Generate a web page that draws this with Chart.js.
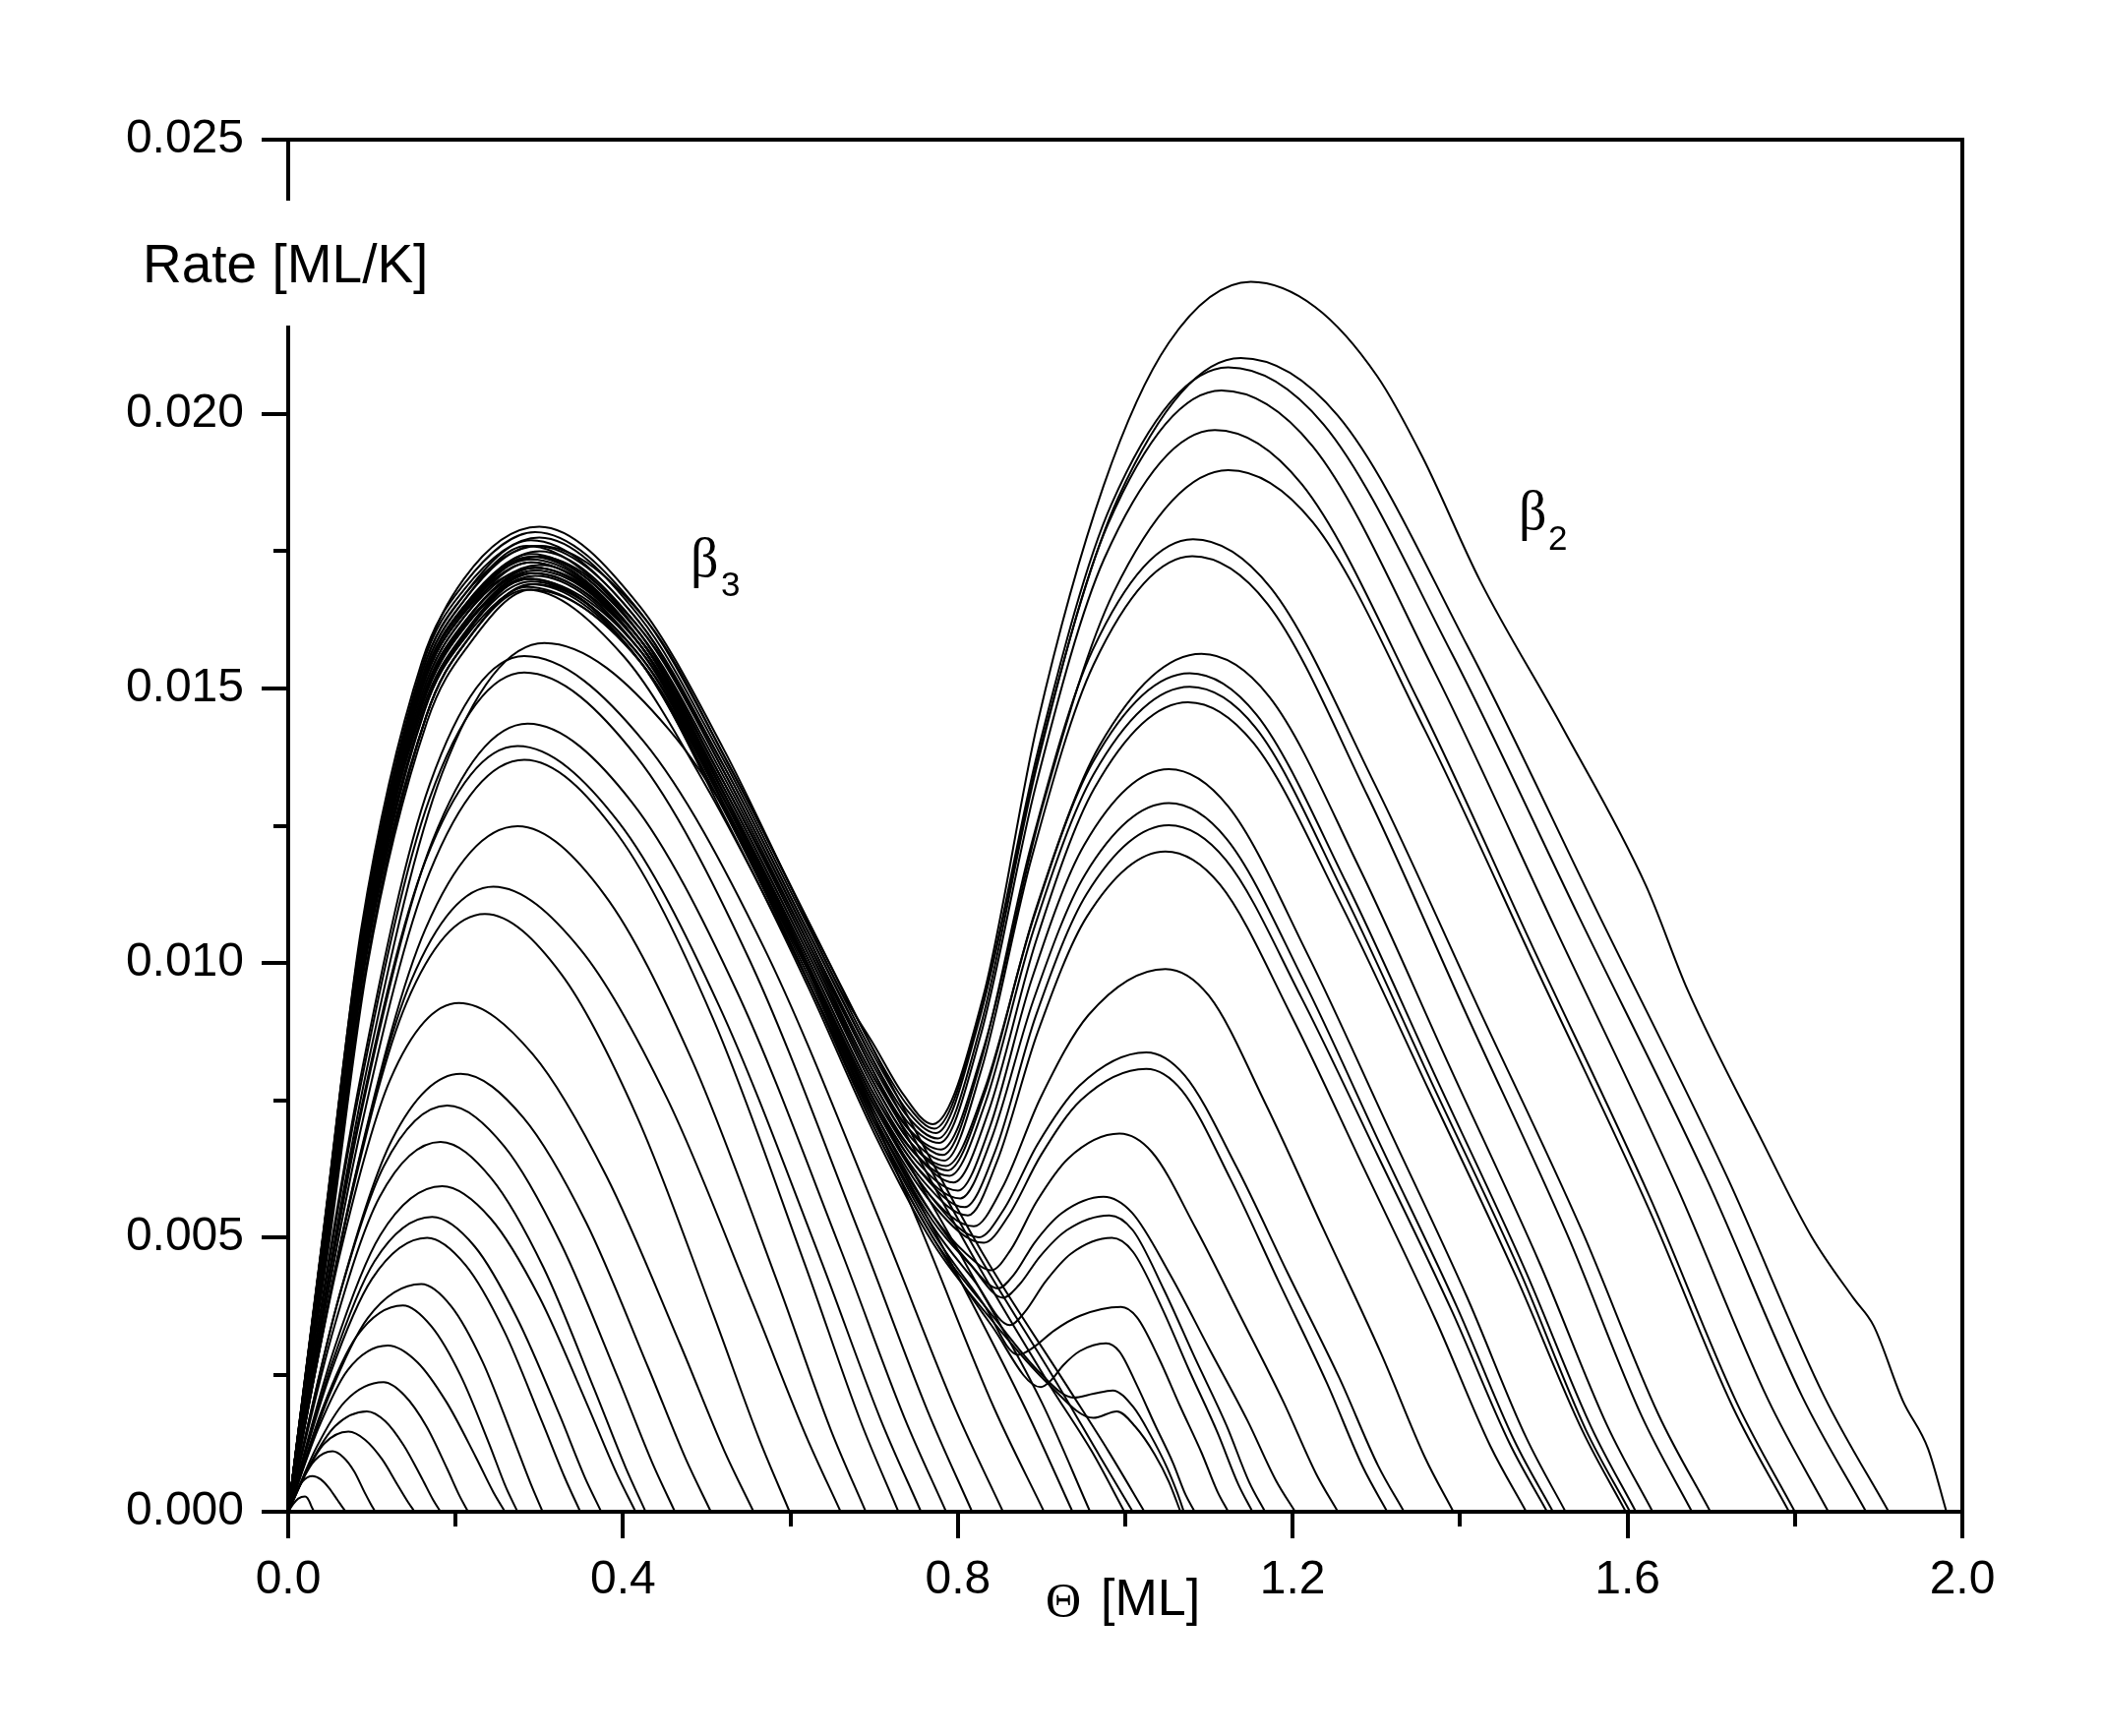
<!DOCTYPE html>
<html>
<head>
<meta charset="utf-8">
<script src="https://cdn.jsdelivr.net/npm/chart.js@4.4.1/dist/chart.umd.min.js"></script>
<style>
html,body{margin:0;padding:0;background:#fff;}
#wrap{width:2138px;height:1765px;}
canvas{display:block;}
</style>
</head>
<body>
<div id="wrap"><canvas id="c" width="2138" height="1765"></canvas></div>
<script>
// ---------- axis ticks ----------
const xMajorTicks = [0, 0.4, 0.8, 1.2, 1.6, 2.0];
const xMinorTicks = [0.2, 0.6, 1.0, 1.4, 1.8];
const yMajorTicks = [0, 0.005, 0.010, 0.015, 0.020, 0.025];
const yMinorTicks = [0.0025, 0.0075, 0.0125, 0.0175, 0.0225];

// ---------- single-peak (beta3 only) curves: [theta, rate] ----------
const singlePeakCurves = [
 [[0,0],[0.006,0.00014],[0.012,0.00024],[0.020,0.00028],[0.023,0.00025],[0.0255,0.00018],[0.028,0.00009],[0.030,0.00003],[0.031,0]],
 [[0,0],[0.009,0.00033],[0.017,0.00055],[0.029,0.00065],[0.039,0.00059],[0.049,0.00043],[0.059,0.00021],[0.065,0.00008],[0.069,0]],
 [[0,0],[0.016,0.00055],[0.032,0.00094],[0.053,0.00110],[0.066,0.00099],[0.079,0.00073],[0.091,0.00036],[0.099,0.00013],[0.104,0]],
 [[0,0],[0.022,0.00073],[0.043,0.00124],[0.072,0.00146],[0.092,0.00131],[0.112,0.00096],[0.131,0.00048],[0.143,0.00018],[0.151,0]],
 [[0,0],[0.028,0.00092],[0.056,0.00156],[0.094,0.00183],[0.116,0.00165],[0.138,0.00121],[0.160,0.00060],[0.173,0.00022],[0.182,0]],
 [[0,0],[0.034,0.00118],[0.068,0.00201],[0.114,0.00236],[0.139,0.00212],[0.165,0.00156],[0.190,0.00078],[0.205,0.00028],[0.215,0]],
 [[0,0],[0.036,0.00152],[0.071,0.00258],[0.119,0.00303],[0.154,0.00273],[0.189,0.00200],[0.224,0.00100],[0.245,0.00036],[0.259,0]],
 [[0,0],[0.041,0.00188],[0.082,0.00320],[0.137,0.00376],[0.171,0.00338],[0.206,0.00248],[0.240,0.00124],[0.260,0.00045],[0.274,0]],
 [[0,0],[0.048,0.00208],[0.095,0.00353],[0.159,0.00415],[0.195,0.00374],[0.232,0.00274],[0.268,0.00137],[0.290,0.00050],[0.304,0]],
 [[0,0],[0.050,0.00250],[0.100,0.00424],[0.166,0.00499],[0.212,0.00449],[0.258,0.00329],[0.303,0.00165],[0.331,0.00060],[0.349,0]],
 [[0,0],[0.052,0.00269],[0.103,0.00456],[0.172,0.00537],[0.223,0.00483],[0.273,0.00354],[0.324,0.00177],[0.354,0.00064],[0.374,0]],
 [[0,0],[0.055,0.00297],[0.110,0.00504],[0.184,0.00593],[0.242,0.00534],[0.300,0.00391],[0.357,0.00196],[0.392,0.00071],[0.415,0]],
 [[0,0],[0.055,0.00337],[0.109,0.00573],[0.182,0.00674],[0.243,0.00607],[0.305,0.00445],[0.366,0.00222],[0.403,0.00081],[0.427,0]],
 [[0,0],[0.057,0.00370],[0.114,0.00629],[0.190,0.00740],[0.258,0.00666],[0.326,0.00488],[0.394,0.00244],[0.435,0.00089],[0.462,0]],
 [[0,0],[0.062,0.00399],[0.124,0.00678],[0.206,0.00798],[0.281,0.00718],[0.356,0.00527],[0.430,0.00263],[0.475,0.00096],[0.505,0]],
 [[0,0],[0.061,0.00464],[0.122,0.00788],[0.204,0.00927],[0.292,0.00834],[0.380,0.00612],[0.468,0.00306],[0.521,0.00111],[0.556,0]],
 [[0,0],[0.071,0.00545],[0.141,0.00926],[0.235,0.01089],[0.326,0.00980],[0.417,0.00719],[0.508,0.00359],[0.563,0.00131],[0.599,0]],
 [[0,0],[0.074,0.00570],[0.147,0.00968],[0.245,0.01139],[0.349,0.01025],[0.453,0.00752],[0.556,0.00376],[0.619,0.00137],[0.660,0]],
 [[0,0],[0.082,0.00625],[0.164,0.01062],[0.274,0.01249],[0.378,0.01124],[0.482,0.00824],[0.586,0.00412],[0.648,0.00150],[0.690,0]],
 [[0,0],[0.085,0.00685],[0.169,0.01165],[0.282,0.01370],[0.394,0.01233],[0.506,0.00904],[0.617,0.00452],[0.684,0.00164],[0.729,0]],
 [[0,0],[0.082,0.00698],[0.164,0.01186],[0.274,0.01395],[0.395,0.01256],[0.515,0.00921],[0.636,0.00460],[0.708,0.00167],[0.756,0]],
 [[0,0],[0.086,0.00718],[0.172,0.01221],[0.286,0.01436],[0.411,0.01292],[0.536,0.00948],[0.661,0.00474],[0.736,0.00172],[0.786,0]],
 [[0,0],[0.085,0.00765],[0.169,0.01300],[0.282,0.01529],[0.416,0.01376],[0.550,0.01009],[0.683,0.00505],[0.764,0.00183],[0.817,0]],
 [[0,0],[0.085,0.00780],[0.169,0.01325],[0.282,0.01559],[0.425,0.01403],[0.568,0.01029],[0.711,0.00514],[0.797,0.00187],[0.854,0]],
 [[0,0],[0.092,0.00792],[0.184,0.01346],[0.306,0.01583],[0.455,0.01425],[0.605,0.01045],[0.754,0.00522],[0.843,0.00190],[0.903,0]]
];

// ---------- saturated beta3 curves without beta2 ----------
const bundleCurves = [
 [[0,0],[0.048,0.00500],[0.092,0.01000],[0.165,0.01450],[0.215,0.01590],[0.285,0.01680],[0.400,0.01560],[0.500,0.01320],[0.600,0.01030],[0.700,0.00720],[0.800,0.00430],[0.880,0.00190],[0.937,0]],
 [[0,0],[0.045,0.00500],[0.088,0.01000],[0.160,0.01470],[0.210,0.01610],[0.290,0.01700],[0.410,0.01570],[0.510,0.01310],[0.610,0.01020],[0.710,0.00720],[0.810,0.00450],[0.900,0.00200],[0.958,0]],
 [[0,0],[0.042,0.00510],[0.084,0.01010],[0.156,0.01490],[0.206,0.01630],[0.295,0.01720],[0.420,0.01590],[0.520,0.01330],[0.620,0.01040],[0.720,0.00740],[0.820,0.00460],[0.910,0.00230],[0.960,0.00110],[0.999,0]],
 [[0,0],[0.045,0.00520],[0.088,0.01020],[0.160,0.01510],[0.210,0.01650],[0.300,0.01740],[0.420,0.01610],[0.520,0.01360],[0.620,0.01060],[0.720,0.00760],[0.820,0.00480],[0.920,0.00230],[0.970,0.00100],[1.009,0]],
 [[0,0],[0.044,0.00520],[0.087,0.01030],[0.160,0.01530],[0.210,0.01670],[0.300,0.01760],[0.430,0.01620],[0.530,0.01350],[0.630,0.01050],[0.730,0.00750],[0.830,0.00470],[0.930,0.00230],[0.980,0.00110],[1.023,0]]
];

// ---------- two-peak (beta3 + beta2) curves ----------
const doublePeakCurves = [
 [[0,0],[0.048,0.00490],[0.093,0.00990],[0.165,0.01450],[0.215,0.01590],[0.290,0.01690],[0.420,0.01550],[0.520,0.01270],[0.620,0.00960],[0.700,0.00690],[0.770,0.00490],[0.840,0.00350],[0.910,0.00230],[0.962,0.00171],[0.990,0.00183],[1.012,0.00155],[1.035,0.00105],[1.052,0.00055],[1.066,0]],
 [[0,0],[0.045,0.00500],[0.089,0.01000],[0.160,0.01470],[0.210,0.01610],[0.295,0.01710],[0.420,0.01570],[0.520,0.01290],[0.620,0.00970],[0.700,0.00700],[0.770,0.00500],[0.840,0.00360],[0.900,0.00250],[0.938,0.00208],[0.962,0.00215],[0.985,0.00221],[1.010,0.00190],[1.030,0.00140],[1.050,0.00080],[1.062,0.00035],[1.070,0]],
 [[0,0],[0.042,0.00510],[0.084,0.01020],[0.156,0.01490],[0.206,0.01630],[0.290,0.01730],[0.420,0.01580],[0.520,0.01290],[0.620,0.00970],[0.700,0.00700],[0.770,0.00500],[0.840,0.00340],[0.899,0.00227],[0.911,0.00239],[0.926,0.00267],[0.946,0.00293],[0.977,0.00307],[0.993,0.00292],[1.014,0.00230],[1.035,0.00160],[1.057,0.00089],[1.072,0.00031],[1.083,0]],
 [[0,0],[0.045,0.00520],[0.087,0.01040],[0.160,0.01520],[0.210,0.01660],[0.285,0.01760],[0.420,0.01600],[0.520,0.01310],[0.620,0.00990],[0.700,0.00710],[0.770,0.00510],[0.830,0.00380],[0.872,0.00286],[0.890,0.00299],[0.915,0.00330],[0.946,0.00357],[0.995,0.00373],[1.014,0.00354],[1.040,0.00280],[1.065,0.00194],[1.091,0.00108],[1.110,0.00037],[1.123,0]],
 [[0,0],[0.049,0.00490],[0.094,0.00990],[0.166,0.01440],[0.216,0.01580],[0.290,0.01680],[0.420,0.01550],[0.520,0.01280],[0.620,0.00970],[0.700,0.00710],[0.770,0.00520],[0.820,0.00420],[0.862,0.00340],[0.880,0.00364],[0.905,0.00420],[0.935,0.00470],[0.984,0.00499],[1.009,0.00474],[1.043,0.00374],[1.076,0.00259],[1.110,0.00145],[1.135,0.00050],[1.152,0]],
 [[0,0],[0.045,0.00500],[0.088,0.01010],[0.160,0.01480],[0.210,0.01620],[0.295,0.01720],[0.420,0.01580],[0.520,0.01300],[0.620,0.00990],[0.700,0.00720],[0.770,0.00530],[0.815,0.00450],[0.854,0.00390],[0.873,0.00413],[0.898,0.00465],[0.930,0.00513],[0.981,0.00540],[1.009,0.00513],[1.046,0.00405],[1.083,0.00281],[1.121,0.00157],[1.148,0.00054],[1.167,0]],
 [[0,0],[0.043,0.00510],[0.085,0.01020],[0.157,0.01500],[0.207,0.01640],[0.290,0.01740],[0.420,0.01590],[0.520,0.01310],[0.620,0.01000],[0.700,0.00730],[0.770,0.00540],[0.810,0.00460],[0.848,0.00407],[0.867,0.00432],[0.892,0.00491],[0.924,0.00544],[0.974,0.00574],[1.008,0.00545],[1.054,0.00431],[1.100,0.00298],[1.146,0.00166],[1.180,0.00057],[1.203,0]],
 [[0,0],[0.047,0.00500],[0.091,0.01000],[0.163,0.01460],[0.213,0.01600],[0.285,0.01700],[0.420,0.01560],[0.520,0.01290],[0.620,0.00980],[0.700,0.00720],[0.770,0.00540],[0.810,0.00470],[0.840,0.00440],[0.863,0.00477],[0.894,0.00565],[0.932,0.00644],[0.993,0.00689],[1.032,0.00655],[1.084,0.00517],[1.137,0.00358],[1.189,0.00200],[1.228,0.00069],[1.254,0]],
 [[0,0],[0.045,0.00500],[0.088,0.01010],[0.160,0.01480],[0.210,0.01620],[0.295,0.01715],[0.420,0.01580],[0.520,0.01300],[0.620,0.00990],[0.700,0.00730],[0.770,0.00560],[0.831,0.00490],[0.860,0.00538],[0.899,0.00649],[0.947,0.00750],[1.025,0.00807],[1.068,0.00767],[1.126,0.00605],[1.183,0.00420],[1.241,0.00234],[1.284,0.00081],[1.313,0]],
 [[0,0],[0.043,0.00510],[0.085,0.01020],[0.157,0.01500],[0.207,0.01640],[0.290,0.01735],[0.420,0.01590],[0.520,0.01310],[0.620,0.01000],[0.700,0.00740],[0.770,0.00570],[0.825,0.00500],[0.855,0.00551],[0.895,0.00669],[0.945,0.00776],[1.025,0.00837],[1.071,0.00795],[1.133,0.00628],[1.194,0.00435],[1.256,0.00243],[1.302,0.00084],[1.333,0]],
 [[0,0],[0.048,0.00490],[0.093,0.00990],[0.165,0.01450],[0.215,0.01590],[0.285,0.01685],[0.420,0.01550],[0.520,0.01290],[0.620,0.00990],[0.700,0.00740],[0.765,0.00580],[0.819,0.00520],[0.853,0.00590],[0.899,0.00755],[0.956,0.00905],[1.048,0.00989],[1.100,0.00940],[1.168,0.00742],[1.237,0.00514],[1.306,0.00287],[1.358,0.00099],[1.392,0]],
 [[0,0],[0.045,0.00500],[0.089,0.01000],[0.160,0.01450],[0.210,0.01590],[0.295,0.01690],[0.420,0.01560],[0.520,0.01290],[0.620,0.00990],[0.700,0.00740],[0.760,0.00600],[0.812,0.00540],[0.847,0.00639],[0.895,0.00872],[0.954,0.01084],[1.048,0.01203],[1.113,0.01143],[1.199,0.00902],[1.285,0.00626],[1.371,0.00349],[1.436,0.00120],[1.479,0]],
 [[0,0],[0.047,0.00500],[0.090,0.01000],[0.162,0.01460],[0.212,0.01600],[0.290,0.01695],[0.420,0.01560],[0.520,0.01300],[0.620,0.01000],[0.700,0.00750],[0.755,0.00620],[0.808,0.00555],[0.845,0.00659],[0.893,0.00903],[0.954,0.01126],[1.052,0.01251],[1.120,0.01188],[1.210,0.00938],[1.301,0.00651],[1.391,0.00363],[1.459,0.00125],[1.504,0]],
 [[0,0],[0.045,0.00510],[0.088,0.01010],[0.160,0.01460],[0.210,0.01600],[0.285,0.01700],[0.420,0.01570],[0.520,0.01300],[0.620,0.01000],[0.700,0.00750],[0.750,0.00630],[0.803,0.00571],[0.840,0.00679],[0.890,0.00931],[0.952,0.01161],[1.052,0.01291],[1.121,0.01226],[1.213,0.00968],[1.304,0.00671],[1.396,0.00374],[1.465,0.00129],[1.511,0]],
 [[0,0],[0.043,0.00500],[0.086,0.01010],[0.158,0.01470],[0.208,0.01610],[0.295,0.01705],[0.420,0.01570],[0.520,0.01310],[0.620,0.01010],[0.700,0.00760],[0.750,0.00640],[0.800,0.00585],[0.838,0.00700],[0.888,0.00969],[0.951,0.01215],[1.052,0.01353],[1.123,0.01285],[1.218,0.01015],[1.313,0.00704],[1.408,0.00392],[1.479,0.00135],[1.526,0]],
 [[0,0],[0.044,0.00510],[0.087,0.01020],[0.160,0.01470],[0.210,0.01610],[0.290,0.01710],[0.420,0.01580],[0.520,0.01310],[0.620,0.01010],[0.700,0.00760],[0.750,0.00650],[0.795,0.00600],[0.837,0.00731],[0.893,0.01038],[0.963,0.01318],[1.075,0.01475],[1.153,0.01401],[1.258,0.01106],[1.363,0.00767],[1.467,0.00428],[1.546,0.00148],[1.598,0]],
 [[0,0],[0.046,0.00510],[0.089,0.01020],[0.161,0.01480],[0.211,0.01620],[0.295,0.01720],[0.420,0.01580],[0.520,0.01320],[0.620,0.01020],[0.700,0.00770],[0.745,0.00660],[0.790,0.00612],[0.833,0.00746],[0.890,0.01058],[0.962,0.01343],[1.077,0.01503],[1.156,0.01428],[1.261,0.01127],[1.366,0.00782],[1.472,0.00436],[1.550,0.00150],[1.603,0]],
 [[0,0],[0.044,0.00520],[0.087,0.01030],[0.160,0.01490],[0.210,0.01630],[0.300,0.01725],[0.420,0.01590],[0.520,0.01320],[0.620,0.01020],[0.700,0.00780],[0.745,0.00670],[0.788,0.00622],[0.831,0.00758],[0.889,0.01075],[0.961,0.01365],[1.077,0.01528],[1.157,0.01452],[1.264,0.01146],[1.370,0.00795],[1.477,0.00443],[1.557,0.00153],[1.610,0]],
 [[0,0],[0.045,0.00510],[0.088,0.01020],[0.160,0.01490],[0.210,0.01630],[0.290,0.01730],[0.420,0.01590],[0.520,0.01330],[0.620,0.01030],[0.700,0.00780],[0.745,0.00670],[0.786,0.00630],[0.832,0.00770],[0.893,0.01097],[0.969,0.01395],[1.091,0.01563],[1.172,0.01485],[1.280,0.01172],[1.387,0.00813],[1.495,0.00453],[1.576,0.00156],[1.630,0]],
 [[0,0],[0.044,0.00510],[0.087,0.01030],[0.160,0.01500],[0.210,0.01640],[0.295,0.01740],[0.420,0.01600],[0.520,0.01330],[0.620,0.01030],[0.700,0.00790],[0.745,0.00680],[0.784,0.00640],[0.828,0.00805],[0.888,0.01191],[0.962,0.01543],[1.080,0.01741],[1.170,0.01654],[1.289,0.01306],[1.408,0.00905],[1.528,0.00505],[1.617,0.00174],[1.677,0]],
 [[0,0],[0.045,0.00520],[0.088,0.01030],[0.160,0.01500],[0.210,0.01640],[0.290,0.01745],[0.420,0.01600],[0.520,0.01340],[0.620,0.01040],[0.700,0.00790],[0.745,0.00690],[0.782,0.00650],[0.827,0.00818],[0.887,0.01211],[0.961,0.01570],[1.081,0.01772],[1.174,0.01683],[1.297,0.01329],[1.421,0.00921],[1.545,0.00514],[1.637,0.00177],[1.699,0]],
 [[0,0],[0.044,0.00520],[0.087,0.01040],[0.160,0.01510],[0.210,0.01650],[0.300,0.01750],[0.420,0.01610],[0.520,0.01350],[0.620,0.01050],[0.700,0.00800],[0.740,0.00700],[0.780,0.00660],[0.831,0.00846],[0.900,0.01279],[0.986,0.01675],[1.123,0.01898],[1.224,0.01803],[1.358,0.01424],[1.492,0.00987],[1.626,0.00550],[1.726,0.00190],[1.793,0]],
 [[0,0],[0.045,0.00520],[0.087,0.01040],[0.160,0.01520],[0.210,0.01660],[0.295,0.01760],[0.420,0.01620],[0.520,0.01350],[0.620,0.01050],[0.700,0.00810],[0.740,0.00710],[0.778,0.00672],[0.827,0.00867],[0.893,0.01322],[0.975,0.01737],[1.107,0.01971],[1.211,0.01872],[1.350,0.01478],[1.488,0.01025],[1.627,0.00572],[1.731,0.00197],[1.800,0]],
 [[0,0],[0.044,0.00530],[0.087,0.01050],[0.160,0.01530],[0.210,0.01670],[0.290,0.01770],[0.420,0.01620],[0.520,0.01360],[0.620,0.01060],[0.700,0.00820],[0.740,0.00720],[0.776,0.00680],[0.827,0.00884],[0.895,0.01362],[0.979,0.01798],[1.115,0.02043],[1.224,0.01941],[1.369,0.01532],[1.514,0.01062],[1.659,0.00592],[1.768,0.00204],[1.840,0]],
 [[0,0],[0.045,0.00530],[0.088,0.01050],[0.160,0.01540],[0.210,0.01680],[0.300,0.01775],[0.420,0.01630],[0.520,0.01370],[0.620,0.01070],[0.700,0.00830],[0.740,0.00730],[0.774,0.00690],[0.826,0.00899],[0.896,0.01388],[0.983,0.01834],[1.123,0.02085],[1.237,0.01981],[1.390,0.01564],[1.542,0.01084],[1.695,0.00605],[1.809,0.00209],[1.885,0]],
 [[0,0],[0.044,0.00530],[0.087,0.01060],[0.160,0.01550],[0.210,0.01690],[0.295,0.01785],[0.420,0.01640],[0.520,0.01380],[0.620,0.01080],[0.700,0.00840],[0.740,0.00740],[0.772,0.00698],[0.827,0.00909],[0.900,0.01400],[0.992,0.01849],[1.138,0.02102],[1.254,0.01997],[1.409,0.01577],[1.564,0.01093],[1.719,0.00610],[1.835,0.00210],[1.912,0]],
 [[0,0],[0.045,0.00530],[0.088,0.01040],[0.160,0.01540],[0.210,0.01700],[0.300,0.01795],[0.420,0.01650],[0.520,0.01390],[0.600,0.01140],[0.660,0.00950],[0.700,0.00850],[0.735,0.00760],[0.770,0.00706],[0.831,0.00943],[0.895,0.01436],[0.974,0.01869],[1.052,0.02130],[1.150,0.02241],[1.227,0.02195],[1.301,0.02069],[1.355,0.01922],[1.424,0.01696],[1.523,0.01427],[1.622,0.01141],[1.672,0.00950],[1.761,0.00675],[1.820,0.00501],[1.870,0.00389],[1.894,0.00339],[1.929,0.00202],[1.959,0.00115],[1.981,0]]
];

// ---------- text ----------
const yAxisTitle = 'Rate [ML/K]';
const xAxisSymbol = '\u0398';
const xAxisUnit = '[ML]';
const peakLabels = [
  {greek: '\u03B2', sub: '3', theta: 0.4806, rate: 0.01704},
  {greek: '\u03B2', sub: '2', theta: 1.4700, rate: 0.01791}
];

const SANS = '"Liberation Sans", Arial, sans-serif';
const SERIF = '"Liberation Serif", "Times New Roman", serif';

const allCurves = [...singlePeakCurves, ...bundleCurves, ...doublePeakCurves];
const datasets = allCurves.map(pts => ({
  data: pts,
  showLine: true,
  borderColor: '#000',
  borderWidth: 2,
  pointRadius: 0,
  pointHoverRadius: 0,
  fill: false,
  cubicInterpolationMode: 'monotone'
}));

const decor = {
  id: 'decor',
  afterDraw(chart) {
    const {ctx, chartArea: a, scales: {x, y}} = chart;
    ctx.save();
    ctx.strokeStyle = '#000';
    ctx.lineCap = 'square';
    ctx.lineWidth = 4;
    // top and right frame
    ctx.beginPath();
    ctx.moveTo(a.left, a.top);
    ctx.lineTo(a.right, a.top);
    ctx.lineTo(a.right, a.bottom);
    ctx.stroke();
    // left axis line with a gap for the title
    const gapTop = a.top + 62, gapBot = a.top + 189;
    ctx.lineCap = 'butt';
    ctx.beginPath();
    ctx.moveTo(a.left, a.top - 2); ctx.lineTo(a.left, gapTop);
    ctx.moveTo(a.left, gapBot); ctx.lineTo(a.left, a.bottom + 2);
    ctx.stroke();
    // minor ticks
    ctx.beginPath();
    xMinorTicks.forEach(v => {
      const px = Math.round(x.getPixelForValue(v));
      ctx.moveTo(px, a.bottom); ctx.lineTo(px, a.bottom + 15);
    });
    yMinorTicks.forEach(v => {
      const py = Math.round(y.getPixelForValue(v));
      if (py > gapTop - 4 && py < gapBot + 4) return;
      ctx.moveTo(a.left, py); ctx.lineTo(a.left - 15, py);
    });
    ctx.stroke();
    // y title in the gap
    ctx.fillStyle = '#000';
    ctx.textBaseline = 'alphabetic';
    ctx.textAlign = 'left';
    ctx.font = '55px ' + SANS;
    ctx.fillText(yAxisTitle, a.left - 148, a.top + 145);
    // x title
    ctx.font = '50px ' + SERIF;
    ctx.fillText(xAxisSymbol, 1063, 1644);
    ctx.font = '52px ' + SANS;
    ctx.fillText(xAxisUnit, 1119, 1642);
    // beta labels
    const offs = [{dx: 31, dy: 20}, {dx: 30, dy: 21}];
    peakLabels.forEach((l, i) => {
      const px = x.getPixelForValue(l.theta);
      const py = y.getPixelForValue(l.rate);
      ctx.font = '56px ' + SERIF;
      ctx.fillText(l.greek, px, py);
      ctx.font = '35px ' + SANS;
      ctx.fillText(l.sub, px + offs[i].dx, py + offs[i].dy);
    });
    ctx.restore();
  }
};

new Chart(document.getElementById('c'), {
  type: 'scatter',
  data: {datasets},
  options: {
    responsive: false,
    animation: false,
    devicePixelRatio: 1,
    events: [],
    layout: {padding: {top: 142, right: 143, left: 0, bottom: 0}},
    plugins: {legend: {display: false}, tooltip: {enabled: false}, title: {display: false}},
    scales: {
      x: {
        type: 'linear', min: 0, max: 2,
        afterFit: s => { s.height = 228; },
        afterBuildTicks: s => { s.ticks = xMajorTicks.map(v => ({value: v})); },
        border: {display: true, width: 4, color: '#000'},
        grid: {display: true, drawOnChartArea: false, drawTicks: true, tickLength: 27, lineWidth: 4, color: '#000', tickColor: '#000'},
        ticks: {
          autoSkip: false, maxRotation: 0, padding: 14, color: '#000',
          font: {family: SANS, size: 48},
          callback: v => Number(v).toFixed(1)
        }
      },
      y: {
        type: 'linear', min: 0, max: 0.025,
        afterFit: s => { s.width = 293; },
        afterBuildTicks: s => { s.ticks = yMajorTicks.map(v => ({value: v})); },
        border: {display: false},
        grid: {display: true, drawOnChartArea: false, drawTicks: true, tickLength: 27, lineWidth: 4, color: '#000', tickColor: '#000'},
        ticks: {
          autoSkip: false, padding: 18, color: '#000',
          font: {family: SANS, size: 48},
          callback: v => Number(v).toFixed(3)
        }
      }
    }
  },
  plugins: [decor]
});
</script>
</body>
</html>
